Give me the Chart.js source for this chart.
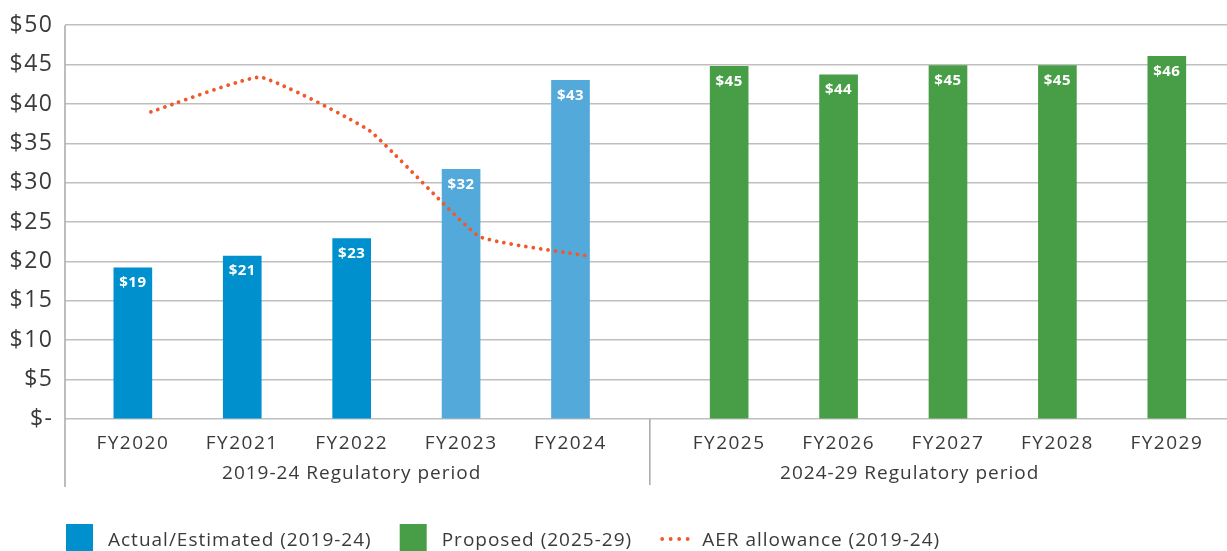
<!DOCTYPE html>
<html>
<head>
<meta charset="utf-8">
<script src="https://cdn.jsdelivr.net/npm/chart.js@4.4.1/dist/chart.umd.min.js"></script>
<style>
  html, body { margin: 0; padding: 0; background: #ffffff; }
  #wrap { width: 1227px; height: 551px; position: relative; }
</style>
</head>
<body>
<div id="wrap"><canvas id="chart"></canvas></div>
<script>
// ---- data ----
const years = ['FY2020', 'FY2021', 'FY2022', 'FY2023', 'FY2024', 'FY2025', 'FY2026', 'FY2027', 'FY2028', 'FY2029'];
const periods = ['2019-24 Regulatory period', '2024-29 Regulatory period'];
const actualEstimated = [19.2, 20.7, 22.9, 31.7, 43.0];      // FY2020-FY2024
const proposed = [44.8, 43.7, 44.9, 44.9, 46.05];           // FY2025-FY2029
const aerAllowance = [39.0, 43.4, 36.6, 23.2, 20.7];         // FY2020-FY2024
const yTickValues = [0, 5, 10, 15, 20, 25, 30, 35, 40, 45, 50];

// ---- layout / style ----
const FONT = '"Open Sans", "Noto Sans", sans-serif';
const TEXT = '#3a3a3a';
const DARK_BLUE = '#0090CD';
const LIGHT_BLUE = '#53A9D9';
const GREEN = '#489E47';
const ORANGE = '#F0592B';
const GRID = '#bfbfbf';
const AXIS = '#a8a8a8';
const SPACING = '1.5px';     // wide lettering throughout
const PERIOD_GAP = 0.45;     // extra space between the two regulatory periods
const LINE_SHIFT = 0.165;    // allowance line sits slightly right of bar centres
const X_MIN = -0.62, X_MAX = 10.0;
const ESTIMATED_FROM = 3;    // FY2023 onward is estimated (lighter blue)

const slot = i => i + (i >= 5 ? PERIOD_GAP : 0);
const yearAt = v => {
  const i = years.findIndex((_, k) => Math.abs(slot(k) - v) < 1e-6);
  return i >= 0 ? years[i] : '';
};
const money = v => '$' + Math.round(v);

const lettering = {
  id: 'lettering',
  beforeDraw(chart) { chart.ctx.letterSpacing = SPACING; }
};

// white value labels inside the top of each bar
const barLabels = {
  id: 'barLabels',
  afterDatasetsDraw(chart) {
    const ctx = chart.ctx;
    ctx.save();
    ctx.letterSpacing = '0.5px';
    ctx.fillStyle = '#ffffff';
    ctx.font = 'bold 15px ' + FONT;
    ctx.textAlign = 'center';
    ctx.textBaseline = 'middle';
    chart.data.datasets.forEach((ds, di) => {
      if (ds.type !== 'bar') return;
      chart.getDatasetMeta(di).data.forEach((bar, i) => {
        ctx.fillText(money(ds.data[i].y), bar.x, bar.y + 15);
      });
    });
    ctx.restore();
  }
};

// axis line, period divider, period captions and legend
const frame = {
  id: 'frame',
  afterDraw(chart) {
    const ctx = chart.ctx;
    const area = chart.chartArea;
    const xs = chart.scales.x;
    ctx.save();
    ctx.strokeStyle = AXIS;
    ctx.lineWidth = 1.5;
    ctx.beginPath();
    ctx.moveTo(area.left, area.top);
    ctx.lineTo(area.left, area.bottom + 68);
    const divX = xs.getPixelForValue((slot(4) + slot(5)) / 2);
    ctx.moveTo(divX, area.bottom);
    ctx.lineTo(divX, area.bottom + 66);
    ctx.stroke();

    ctx.letterSpacing = '1px';
    ctx.fillStyle = TEXT;
    ctx.font = '19px ' + FONT;
    ctx.textAlign = 'center';
    ctx.textBaseline = 'middle';
    ctx.fillText(periods[0], xs.getPixelForValue((slot(0) + slot(4)) / 2), area.bottom + 55);
    ctx.fillText(periods[1], xs.getPixelForValue(7.1), area.bottom + 55);

    // legend
    const ds = chart.data.datasets;
    let x = 66;
    const yMid = 541;
    ctx.textAlign = 'left';
    ds.forEach(d => {
      if (d.type === 'bar') {
        ctx.fillStyle = Array.isArray(d.backgroundColor) ? d.backgroundColor[0] : d.backgroundColor;
        ctx.fillRect(x, 524, 27, 27);
        x += 27 + 15;
      } else {
        ctx.fillStyle = d.borderColor;
        for (let k = 0; k < 4; k++) {
          ctx.beginPath();
          ctx.arc(x + 2 + k * 8.5, yMid - 2, 1.9, 0, Math.PI * 2);
          ctx.fill();
        }
        x += 28 + 14;
      }
      ctx.fillStyle = TEXT;
      ctx.fillText(d.label, x, yMid);
      x += ctx.measureText(d.label).width + 28;
    });
    ctx.restore();
  }
};

new Chart(document.getElementById('chart'), {
  type: 'bar',
  data: {
    datasets: [
      {
        type: 'bar',
        label: 'Actual/Estimated (2019-24)',
        data: actualEstimated.map((v, i) => ({ x: slot(i), y: v })),
        backgroundColor: actualEstimated.map((v, i) => i < ESTIMATED_FROM ? DARK_BLUE : LIGHT_BLUE),
        barThickness: 38,
        grouped: false,
        order: 1
      },
      {
        type: 'bar',
        label: 'Proposed (2025-29)',
        data: proposed.map((v, i) => ({ x: slot(i + 5), y: v })),
        backgroundColor: GREEN,
        barThickness: 38,
        grouped: false,
        order: 1
      },
      {
        type: 'line',
        label: 'AER allowance (2019-24)',
        data: aerAllowance.map((v, i) => ({ x: slot(i) + LINE_SHIFT, y: v })),
        borderColor: ORANGE,
        borderWidth: 3.8,
        borderDash: [0.01, 7.4],
        borderCapStyle: 'round',
        pointRadius: 0,
        tension: 0.12,
        fill: false,
        order: 0
      }
    ]
  },
  options: {
    responsive: true,
    maintainAspectRatio: false,
    animation: false,
    layout: { padding: { top: 24, right: 0, left: 0, bottom: 0 } },
    plugins: { legend: { display: false }, tooltip: { enabled: false } },
    scales: {
      x: {
        type: 'linear',
        offset: false,
        min: X_MIN,
        max: X_MAX,
        grid: { display: false },
        border: { display: false },
        ticks: {
          autoSkip: false,
          maxRotation: 0,
          padding: 5,
          color: TEXT,
          font: { family: FONT, size: 19 },
          callback: v => yearAt(v)
        },
        afterBuildTicks: s => { s.ticks = years.map((_, i) => ({ value: slot(i) })); },
        afterFit: s => { s.height = 132; }
      },
      y: {
        min: 0,
        max: 50,
        grid: { color: GRID, lineWidth: 1.6, drawTicks: false },
        border: { display: false },
        ticks: {
          padding: 11.5,
          color: TEXT,
          font: { family: FONT, size: 23 },
          callback: v => v === 0 ? '$-' : '$' + v
        },
        afterBuildTicks: s => { s.ticks = yTickValues.map(v => ({ value: v })); },
        afterFit: s => { s.width = 65; }
      }
    }
  },
  plugins: [lettering, barLabels, frame]
});
</script>
</body>
</html>
